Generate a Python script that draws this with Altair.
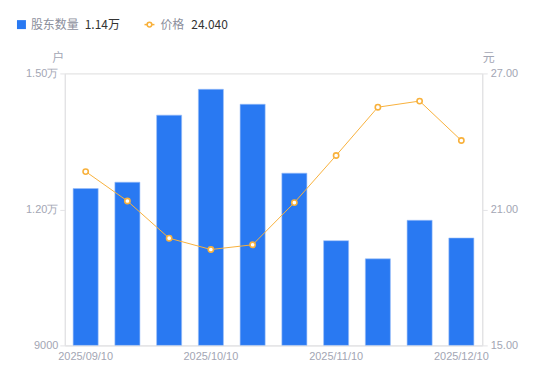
import altair as alt
import pandas as pd

dates = ["2025/09/10", "2025/09/19", "2025/09/30", "2025/10/10", "2025/10/20",
         "2025/10/31", "2025/11/10", "2025/11/20", "2025/11/28", "2025/12/10"]
holders = [12460, 12600, 14080, 14650, 14320, 12800, 11310, 10910, 11760, 11370]
prices = [22.67, 21.37, 19.73, 19.23, 19.44, 21.30, 23.38, 25.51, 25.78, 24.04]
shown_dates = ["2025/09/10", "2025/10/10", "2025/11/10", "2025/12/10"]
holder_base = 9000

df = pd.DataFrame({"date": dates, "holders": holders, "price": prices})

BLUE = "#2979f2"
ORANGE = "#f8b13c"
GREY = "#a3a6b4"
AXIS_LINE = "#e3e3e6"
FONT = "Liberation Sans"

x_enc = alt.X("date:N", sort=dates, title=None,
              scale=alt.Scale(paddingInner=0.4, paddingOuter=0.2),
              axis=alt.Axis(values=shown_dates, labelAngle=0, ticks=False,
                            domainColor=AXIS_LINE, labelColor=GREY, labelFontSize=11,
                            labelFont=FONT, labelPadding=5, labelOverlap=False))

bars = alt.Chart(df).mark_bar(color=BLUE, clip=True, stroke="#9cc0f8", strokeWidth=0.6).encode(
    x=x_enc,
    y=alt.Y("holders:Q", scale=alt.Scale(domain=[9000, 15000], nice=False, zero=False),
            axis=alt.Axis(values=[9000, 12000, 15000], grid=False, orient="left",
                          labelExpr="datum.value >= 10000 ? format(datum.value/10000, '.2f') + '万' : format(datum.value, 'd')",
                          domainColor=AXIS_LINE, tickColor=AXIS_LINE, tickSize=5,
                          labelColor=GREY, labelFontSize=11, labelFont=FONT, labelPadding=2,
                          title="户", titleAngle=0, titleX=-7, titleY=-16,
                          titleAlign="center", titleBaseline="middle",
                          titleColor=GREY, titleFontWeight="normal", titleFontSize=12,
                          titleFont="Noto Sans CJK SC")),
    y2=alt.datum(holder_base),
)

price_y = alt.Y("price:Q", scale=alt.Scale(domain=[15, 27], nice=False, zero=False),
                axis=alt.Axis(values=[15, 21, 27], grid=False, orient="right", format=".2f",
                              domainColor=AXIS_LINE, tickColor=AXIS_LINE, tickSize=5,
                              labelColor=GREY, labelFontSize=11, labelFont=FONT, labelPadding=3,
                              title="元", titleAngle=0, titleX=6, titleY=-16,
                              titleAlign="center", titleBaseline="middle",
                              titleColor=GREY, titleFontWeight="normal", titleFontSize=12,
                              titleFont="Noto Sans CJK SC"))

line = alt.Chart(df).mark_line(color=ORANGE, strokeWidth=1).encode(x=x_enc, y=price_y)
points = alt.Chart(df).mark_point(shape="circle", filled=True, fill="white",
                                  stroke=ORANGE, strokeWidth=1.6, size=28, opacity=1).encode(
    x=x_enc, y=price_y)

last_h = holders[-1]
last_p = prices[-1]
leg_df = pd.DataFrame({"a": [0]})
leg_font = "Noto Sans CJK SC"
legend_layers = [
    alt.Chart(leg_df).mark_square(color=BLUE, size=81, opacity=1).encode(
        x=alt.value(-43.5), y=alt.value(-49)),
    alt.Chart(leg_df).mark_text(text="股东数量", align="left", baseline="middle",
                                fontSize=12, color="#8c8f9c", font=leg_font).encode(
        x=alt.value(-34), y=alt.value(-49)),
    alt.Chart(leg_df).mark_text(text=f"{last_h/10000:.2f}万", align="left", baseline="middle",
                                fontSize=12, color="#333333", font=leg_font).encode(
        x=alt.value(20), y=alt.value(-49)),
    alt.Chart(leg_df).mark_rule(color=ORANGE, strokeWidth=1.5).encode(
        x=alt.value(80), x2=alt.value(90), y=alt.value(-49)),
    alt.Chart(leg_df).mark_point(shape="circle", filled=True, fill="white", stroke=ORANGE,
                                 strokeWidth=1.6, size=22, opacity=1).encode(
        x=alt.value(85), y=alt.value(-49)),
    alt.Chart(leg_df).mark_text(text="价格", align="left", baseline="middle",
                                fontSize=12, color="#8c8f9c", font=leg_font).encode(
        x=alt.value(96), y=alt.value(-49)),
    alt.Chart(leg_df).mark_text(text=f"{last_p:.3f}", align="left", baseline="middle",
                                fontSize=12, color="#333333", font=leg_font).encode(
        x=alt.value(127), y=alt.value(-49)),
]

chart = alt.layer(bars, line + points, *legend_layers).resolve_scale(y="independent").properties(
    width=419, height=273,
    padding={"left": 57, "top": 65, "right": 60, "bottom": 18},
    autosize=alt.AutoSizeParams(type="none"),
).configure_view(stroke=None).configure(background="white")

chart.save("out.html", embed_options={"renderer": "svg", "actions": False})
